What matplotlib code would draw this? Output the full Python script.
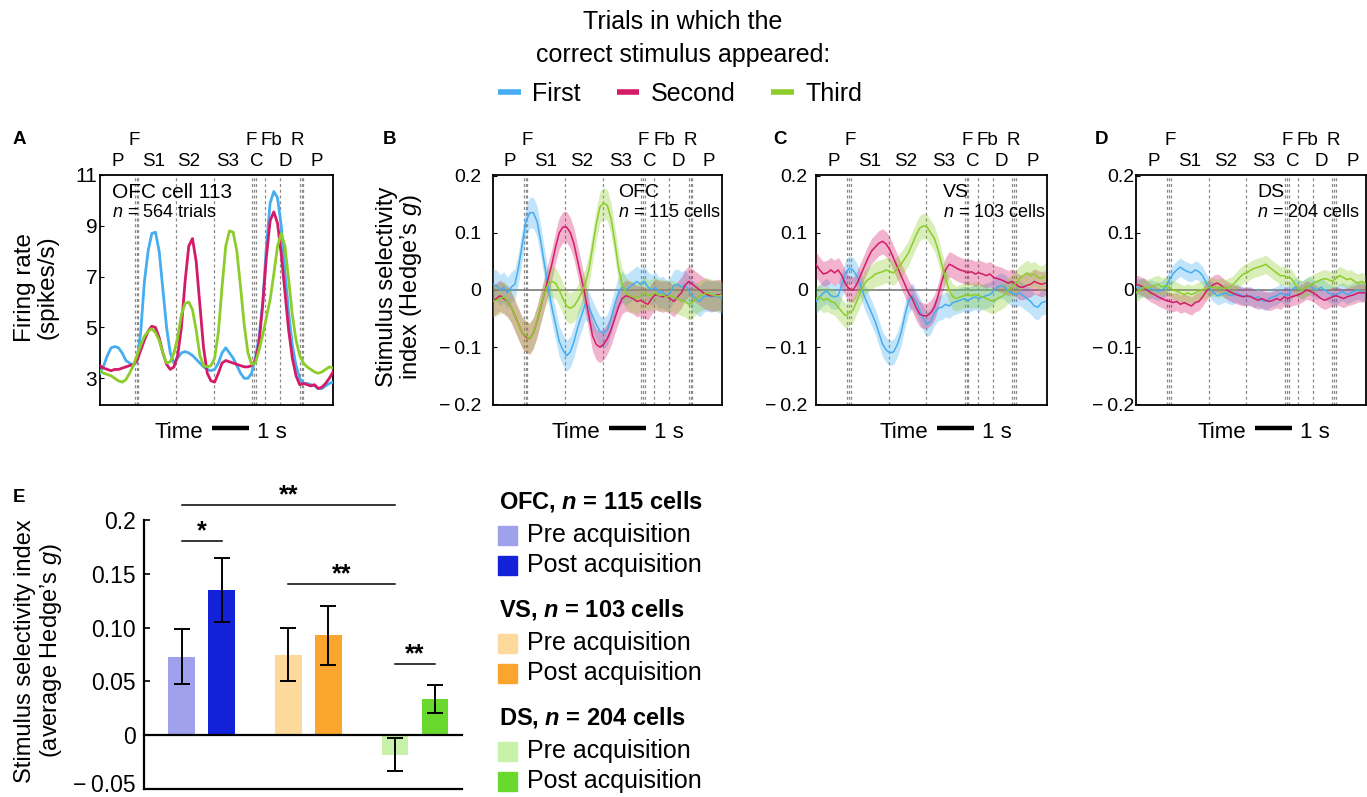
import matplotlib

matplotlib.use("Agg")
import matplotlib.pyplot as plt
import matplotlib.transforms as mtransforms
from matplotlib.lines import Line2D
from matplotlib.patches import Rectangle
import numpy as np

plt.rcParams["font.family"] = ["Liberation Sans", "DejaVu Sans"]
plt.rcParams["mathtext.fontset"] = "custom"
plt.rcParams["mathtext.rm"] = "Liberation Sans"
plt.rcParams["mathtext.it"] = "Liberation Sans:italic"
plt.rcParams["mathtext.bf"] = "Liberation Sans:bold"
plt.rcParams["mathtext.bfit"] = "Liberation Sans:bold:italic"

# ---------------------------------------------------------------- data
SERIES = ["First", "Second", "Third"]
SERIES_COLORS = ["#45adf0", "#d51a68", "#8ccd2b"]

# time grid (s); panel A starts 0.1 s earlier
T = np.round(np.arange(0.0, 6.25, 0.1), 1)
T_A = np.round(np.arange(-0.1, 6.25, 0.1), 1)

# task events (dashed lines) and their labels
EVENT_T = [0.84, 0.89, 0.94, 1.96, 2.98, 4.02, 4.07, 4.12, 4.37, 4.78, 5.30, 5.35, 5.40]
LOW_LABELS = ["P", "S1", "S2", "S3", "C", "D", "P"]
LOW_T = [0.47, 1.44, 2.41, 3.45, 4.24, 5.01, 5.85]
HIGH_LABELS = ["F", "F", "Fb", "R"]
HIGH_T = [0.93, 4.08, 4.64, 5.33]

# A: OFC cell 113 firing rate (spikes/s)
A_FIRST = [3.2, 3.5, 3.9, 4.2, 4.25, 4.2, 4.0, 3.7, 3.6, 3.5, 3.7,
           4.8, 6.8, 8.0, 8.7, 8.75, 8.0, 6.5, 5.0, 4.0, 3.6,
           3.8, 4.0, 4.05, 4.0, 3.9, 3.75, 3.6, 3.45, 3.35, 3.3,
           3.35, 3.6, 4.0, 4.2, 4.0, 3.8, 3.5, 3.2, 3.0, 3.0,
           3.2, 3.8, 4.6, 6.0, 8.2, 9.9, 10.35, 10.1, 9.0, 7.2,
           5.6, 4.3, 3.5, 3.0, 2.8, 2.8, 2.75, 2.7, 2.6, 2.6,
           2.7, 2.8, 2.85]
A_SECOND = [3.5, 3.4, 3.35, 3.3, 3.35, 3.35, 3.4, 3.45, 3.5, 3.55, 3.7,
            4.1, 4.5, 4.85, 5.05, 5.0, 4.6, 4.0, 3.55, 3.35, 3.45,
            3.9, 5.0, 6.8, 8.2, 8.5, 7.6, 5.9, 4.2, 3.2, 2.9,
            2.85, 3.2, 3.6, 3.7, 3.65, 3.6, 3.55, 3.5, 3.45, 3.45,
            3.5, 3.7, 4.4, 5.9, 7.8, 9.2, 9.55, 9.1, 7.9, 6.4,
            4.9, 3.8, 3.1, 2.75, 2.8, 2.75, 2.7, 2.75, 2.6, 2.65,
            2.8, 3.0, 3.25]
A_THIRD = [3.3, 3.2, 3.15, 3.1, 3.0, 2.9, 2.85, 2.95, 3.2, 3.5, 3.9,
           4.3, 4.65, 4.85, 4.95, 4.8, 4.5, 4.0, 3.6, 3.65, 4.0,
           4.6, 5.5, 5.95, 6.0, 5.7, 4.9, 3.9, 3.5, 3.45, 3.5,
           3.8, 4.8, 6.6, 8.2, 8.8, 8.75, 8.0, 6.6, 5.1, 4.0,
           3.55, 3.6, 4.1, 4.7, 5.4, 6.1, 7.1, 8.2, 8.7, 8.2,
           6.9, 5.5, 4.5, 3.9, 3.6, 3.45, 3.35, 3.25, 3.2, 3.25,
           3.35, 3.45, 3.4]

# B: OFC population selectivity (Hedge's g)
B_FIRST = [0.010, 0.008, 0.000, 0.005, -0.005, 0.005, 0.010, 0.040, 0.080, 0.120,
           0.135, 0.135, 0.120, 0.085, 0.045, 0.005, -0.030, -0.060, -0.090, -0.105,
           -0.115, -0.108, -0.090, -0.065, -0.045, -0.025, -0.030, -0.045, -0.060, -0.072,
           -0.075, -0.070, -0.050, -0.025, -0.005, 0.005, 0.000, 0.005, 0.010, 0.015,
           0.010, 0.015, 0.005, 0.000, 0.005, -0.005, -0.003, -0.010, -0.005, 0.008,
           0.010, 0.005, 0.008, 0.000, -0.010, -0.015, -0.020, -0.012, -0.010, -0.012,
           -0.010, -0.012, -0.015]
B_SECOND = [-0.020, -0.015, -0.010, -0.015, -0.020, -0.030, -0.045, -0.060, -0.075, -0.082,
            -0.085, -0.075, -0.055, -0.030, -0.005, 0.020, 0.045, 0.075, 0.100, 0.110,
            0.110, 0.100, 0.080, 0.050, 0.020, -0.010, -0.045, -0.080, -0.095, -0.100,
            -0.095, -0.085, -0.070, -0.050, -0.030, -0.015, -0.010, -0.012, -0.015, -0.020,
            -0.018, -0.022, -0.025, -0.015, -0.008, -0.010, -0.012, -0.010, -0.015, -0.020,
            -0.012, -0.005, 0.008, 0.015, 0.010, 0.005, 0.000, -0.005, -0.008, -0.010,
            -0.010, -0.008, -0.010]
B_THIRD = [-0.020, -0.018, -0.015, -0.012, -0.020, -0.030, -0.045, -0.060, -0.075, -0.080,
           -0.085, -0.075, -0.055, -0.030, -0.005, 0.010, 0.015, 0.012, 0.000, -0.015,
           -0.028, -0.032, -0.028, -0.018, -0.005, 0.010, 0.035, 0.075, 0.115, 0.145,
           0.152, 0.148, 0.125, 0.085, 0.040, 0.010, -0.005, -0.010, -0.012, -0.015,
           -0.010, -0.005, -0.010, -0.008, -0.005, -0.010, -0.008, -0.012, -0.010, -0.012,
           -0.015, -0.018, -0.020, -0.025, -0.022, -0.015, -0.010, -0.008, -0.005, -0.008,
           -0.010, -0.010, -0.010]

# C: VS population selectivity
C_FIRST = [-0.020, -0.012, -0.005, -0.002, -0.010, -0.012, -0.010, 0.010, 0.030, 0.038,
           0.035, 0.025, 0.010, -0.010, -0.025, -0.040, -0.055, -0.075, -0.095, -0.105,
           -0.110, -0.108, -0.095, -0.075, -0.045, -0.020, -0.010, -0.020, -0.035, -0.050,
           -0.060, -0.055, -0.040, -0.032, -0.030, -0.025, -0.028, -0.022, -0.020, -0.018,
           -0.015, -0.018, -0.015, -0.012, -0.015, -0.012, -0.010, -0.008, -0.002, 0.005,
           0.008, 0.005, -0.002, -0.005, -0.008, -0.005, -0.010, -0.015, -0.020, -0.028,
           -0.030, -0.022, -0.020]
C_SECOND = [0.045, 0.035, 0.028, 0.030, 0.035, 0.030, 0.035, 0.025, 0.010, 0.002,
            0.000, 0.010, 0.025, 0.040, 0.055, 0.068, 0.075, 0.082, 0.085, 0.080,
            0.070, 0.055, 0.040, 0.025, 0.010, -0.005, -0.015, -0.030, -0.042, -0.045,
            -0.045, -0.040, -0.030, -0.010, 0.015, 0.035, 0.045, 0.042, 0.038, 0.035,
            0.033, 0.030, 0.032, 0.028, 0.030, 0.028, 0.025, 0.028, 0.022, 0.020,
            0.018, 0.015, 0.012, 0.015, 0.010, 0.005, 0.005, 0.008, 0.010, 0.015,
            0.012, 0.010, 0.012]
C_THIRD = [-0.015, -0.012, -0.018, -0.015, -0.020, -0.022, -0.030, -0.038, -0.045, -0.040,
           -0.035, -0.020, -0.005, 0.010, 0.018, 0.022, 0.028, 0.030, 0.032, 0.035,
           0.032, 0.030, 0.038, 0.045, 0.055, 0.065, 0.080, 0.095, 0.108, 0.112,
           0.110, 0.100, 0.090, 0.070, 0.045, 0.020, 0.000, -0.012, -0.015, -0.012,
           -0.010, -0.008, -0.010, -0.008, -0.010, -0.012, -0.015, -0.018, -0.020, -0.015,
           -0.012, -0.008, 0.000, 0.005, 0.012, 0.020, 0.025, 0.030, 0.025, 0.028,
           0.022, 0.020, 0.025]

# D: DS population selectivity
D_FIRST = [0.005, 0.003, 0.005, 0.000, 0.002, 0.000, -0.002, 0.000, 0.005, 0.018,
           0.028, 0.035, 0.040, 0.035, 0.032, 0.030, 0.035, 0.032, 0.025, 0.012,
           0.002, -0.005, -0.010, -0.008, -0.005, -0.008, -0.010, -0.005, -0.008, -0.010,
           -0.012, -0.010, -0.015, -0.012, -0.018, -0.020, -0.015, -0.012, -0.010, -0.005,
           -0.008, -0.010, 0.000, 0.005, 0.002, 0.000, 0.005, 0.008, 0.002, 0.000,
           0.005, 0.000, -0.005, -0.008, -0.010, -0.005, -0.003, -0.008, -0.005, -0.002,
           0.000, -0.003, -0.005]
D_SECOND = [0.010, 0.008, 0.005, 0.000, -0.005, -0.008, -0.012, -0.015, -0.018, -0.020,
            -0.022, -0.020, -0.025, -0.022, -0.025, -0.028, -0.022, -0.020, -0.012, -0.002,
            0.005, 0.010, 0.012, 0.008, 0.002, -0.002, -0.005, -0.008, -0.010, -0.012,
            -0.010, -0.012, -0.015, -0.018, -0.015, -0.018, -0.020, -0.018, -0.015, -0.018,
            -0.012, -0.015, -0.012, -0.010, -0.008, -0.005, 0.000, -0.002, -0.005, -0.010,
            -0.015, -0.018, -0.015, -0.012, -0.010, -0.012, -0.015, -0.012, -0.010, -0.008,
            -0.005, -0.005, -0.005]
D_THIRD = [-0.005, 0.000, 0.005, 0.003, 0.005, 0.008, 0.010, 0.005, 0.008, 0.005,
           0.000, -0.002, -0.005, -0.008, -0.005, -0.008, -0.005, -0.002, 0.000, 0.002,
           0.005, 0.005, 0.003, 0.005, 0.002, 0.005, 0.008, 0.015, 0.022, 0.028,
           0.030, 0.035, 0.038, 0.040, 0.042, 0.045, 0.040, 0.035, 0.030, 0.025,
           0.025, 0.022, 0.020, 0.010, 0.002, 0.000, 0.005, 0.008, 0.012, 0.015,
           0.018, 0.020, 0.018, 0.015, 0.020, 0.025, 0.022, 0.018, 0.020, 0.015,
           0.012, 0.015, 0.010]

# half-width of the SEM bands per population panel
SEM_B = 0.027
SEM_C = 0.022
SEM_D = 0.016

# E: average selectivity pre / post acquisition
REGIONS = ["OFC", "VS", "DS"]
N_CELLS = [115, 103, 204]
PRE_MEAN = [0.073, 0.075, -0.018]
PRE_ERR = [0.0256, 0.0245, 0.0152]
POST_MEAN = [0.135, 0.093, 0.034]
POST_ERR = [0.0298, 0.0273, 0.0130]
PRE_COLORS = ["#a0a1ec", "#fdd99b", "#c8f2a9"]
POST_COLORS = ["#1321d9", "#faa52d", "#69da2d"]
# significance brackets: (bar index from, bar index to, height, label)
SIG_BARS = [(0, 1, 0.1805, "*"), (0, 4, 0.2142, "**"), (2, 4, 0.1407, "**"), (4, 5, 0.0663, "**")]

# ---------------------------------------------------------------- figure
W, H = 1367, 797
fig = plt.figure(figsize=(W / 100, H / 100), dpi=100, facecolor="white")
MINUS = "\u2212\u2009"


def px_axes(left, top, right, bottom):
    return fig.add_axes([left / W, 1 - bottom / H, (right - left) / W, (bottom - top) / H])


def fig_text(x, y, s, **kw):
    return fig.text(x / W, 1 - y / H, s, **kw)


def decorate_trace(ax, xlim, ylim, yticks, yticklabels, label_shift, pad, bar_start, tick_size):
    ax.set_xlim(*xlim)
    ax.set_ylim(*ylim)
    for t in EVENT_T:
        ax.axvline(t, color="#8a8a8a", lw=0.9, ls=(0, (2.4, 2.2)), zorder=1)
    trans = mtransforms.blended_transform_factory(ax.transData, ax.transAxes)
    for lab, t in zip(LOW_LABELS, LOW_T):
        ax.text(t + label_shift, 1.057, lab, transform=trans, ha="center", va="center", fontsize=13.5)
    for lab, t in zip(HIGH_LABELS, HIGH_T):
        ax.text(t + label_shift, 1.150, lab, transform=trans, ha="center", va="center", fontsize=13.5)
    ax.set_xticks([])
    ax.set_yticks(yticks)
    ax.set_yticklabels(yticklabels)
    ax.tick_params(axis="y", direction="in", length=3, width=0.8, labelsize=tick_size, pad=pad)
    for sp in ax.spines.values():
        sp.set_linewidth(1.3)
    # scale bar under the axes
    ax.plot([bar_start, bar_start + 1.0], [-0.10, -0.10], color="black", lw=3.2,
            transform=trans, clip_on=False, solid_capstyle="butt")
    ax.text(bar_start - 0.24, -0.12, "Time", transform=trans, ha="right", va="center", fontsize=16)
    ax.text(bar_start + 1.22, -0.12, "1 s", transform=trans, ha="left", va="center", fontsize=16)


# ---- panel A
axA = px_axes(100, 175, 333, 405)
for vals, col in zip([A_FIRST, A_SECOND, A_THIRD], SERIES_COLORS):
    axA.plot(T_A, vals, color=col, lw=2.0, zorder=3)
decorate_trace(axA, (-0.1, 6.2), (1.95, 11.0), [3, 5, 7, 9, 11], ["3", "5", "7", "9", "11"],
               -0.1, 2, 2.93, 15)
axA.text(0.05, 0.926, "OFC cell 113", transform=axA.transAxes, ha="left", va="center", fontsize=15)
axA.text(0.05, 0.835, "$n$ = 564 trials", transform=axA.transAxes, ha="left", va="center", fontsize=13)
fig_text(36, 287, "Firing rate\n(spikes/s)", rotation=90, ha="center", va="center",
         fontsize=17.5, linespacing=1.05)

# ---- panels B, C, D
POP_PANELS = [
    ("B", (492.7, 175, 722.3, 405), [B_FIRST, B_SECOND, B_THIRD], SEM_B, "OFC", 115, 0.546, 8, 3.14, 6.21),
    ("C", (816, 175, 1046.7, 405), [C_FIRST, C_SECOND, C_THIRD], SEM_C, "VS", 103, 0.55, 6, 3.27, 6.235),
    ("D", (1136, 175, 1365.5, 405), [D_FIRST, D_SECOND, D_THIRD], SEM_D, "DS", 204, 0.529, 1.5, 3.22, 6.2),
]
pop_ticks = [-0.2, -0.1, 0, 0.1, 0.2]
pop_ticklabels = [MINUS + "0.2", MINUS + "0.1", "0", "0.1", "0.2"]
for letter, box, series, sem, region, ncell, tx, pad, bar_start, xmax in POP_PANELS:
    ax = px_axes(*box)
    ax.axhline(0, color="#7a7a7a", lw=1.2, zorder=2)
    for vals, col in zip(series, SERIES_COLORS):
        v = np.asarray(vals)
        ax.fill_between(T, v - sem, v + sem, color=col, alpha=0.33, lw=0, zorder=3)
        ax.plot(T, v, color=col, lw=1.1, zorder=4)
    decorate_trace(ax, (0, xmax), (-0.201, 0.201), pop_ticks, pop_ticklabels, 0.0, pad, bar_start, 14)
    ax.text(tx, 0.926, region, transform=ax.transAxes, ha="left", va="center", fontsize=14)
    ax.text(tx, 0.835, f"$n$ = {ncell} cells", transform=ax.transAxes, ha="left", va="center",
            fontsize=13)

fig_text(400, 287, "Stimulus selectivity\nindex (Hedge\u2019s $g$)", rotation=90, ha="center",
         va="center", fontsize=17, linespacing=1.0)

for letter, (x, y) in zip("ABCDE", [(13, 140), (383, 140), (773, 140), (1095, 140), (13, 498)]):
    fig_text(x, y, letter, ha="left", va="center", fontsize=13.5, fontweight="bold")

# ---- top legend
fig_text(683, 22, "Trials in which the", ha="center", va="center", fontsize=18)
fig_text(683, 55, "correct stimulus appeared:", ha="center", va="center", fontsize=18)
handles = [Line2D([], [], color=c, lw=4, solid_capstyle="butt") for c in SERIES_COLORS]
fig.legend(handles, SERIES, loc="center", bbox_to_anchor=(680 / W, 1 - 94 / H), ncol=3,
           frameon=False, fontsize=18, handlelength=0.9, handletextpad=0.45, columnspacing=1.45)

# ---- panel E
axE = px_axes(144, 520, 462, 789)
group_x = np.arange(len(REGIONS))
bar_x = []
for g in group_x:
    bar_x += [g - 0.1875, g + 0.1875]
heights, errs, colors = [], [], []
for i in range(len(REGIONS)):
    heights += [PRE_MEAN[i], POST_MEAN[i]]
    errs += [PRE_ERR[i], POST_ERR[i]]
    colors += [PRE_COLORS[i], POST_COLORS[i]]
axE.bar(bar_x, heights, width=0.25, color=colors, zorder=2,
        yerr=errs, capsize=5.5, error_kw={"elinewidth": 1.4, "capthick": 1.4, "ecolor": "black", "zorder": 4})
axE.axhline(0, color="black", lw=1.6, zorder=3, clip_on=False)
axE.set_xlim(-0.54, 2.44)
axE.set_ylim(-0.05, 0.2)
axE.set_xticks([])
axE.set_yticks([-0.05, 0, 0.05, 0.10, 0.15, 0.2])
axE.set_yticklabels([MINUS + "0.05", "0", "0.05", "0.10", "0.15", "0.2"])
axE.tick_params(axis="y", direction="in", length=4, width=1.2, labelsize=16.5, pad=6)
axE.spines["top"].set_visible(False)
axE.spines["right"].set_visible(False)
axE.spines["left"].set_linewidth(1.6)
axE.spines["bottom"].set_linewidth(1.6)
for i0, i1, y, lab in SIG_BARS:
    axE.plot([bar_x[i0], bar_x[i1]], [y, y], color="black", lw=1.1, clip_on=False)
    axE.text((bar_x[i0] + bar_x[i1]) / 2, y - 0.002, lab, ha="center", va="bottom",
             fontsize=18, fontweight="bold", clip_on=False)
fig_text(39, 651, "Stimulus selectivity index\n(average Hedge\u2019s $g$)", rotation=90,
         ha="center", va="center", fontsize=17, linespacing=1.1)

# lift the lowest tick label a little so it stays inside the figure
low_label = axE.yaxis.get_major_ticks()[0].label1
low_label.set_transform(low_label.get_transform()
                        + mtransforms.ScaledTranslation(0, 4 / 72, fig.dpi_scale_trans))

# ---- legend for E
header_y = [502, 610, 718]
for i, region in enumerate(REGIONS):
    y0 = header_y[i]
    fig_text(499, y0, f"{region}, $\\mathbfit{{n}}$ = {N_CELLS[i]} cells", ha="left", va="center",
             fontsize=17, fontweight="bold")
    for j, (lab, col) in enumerate([("Pre acquisition", PRE_COLORS[i]), ("Post acquisition", POST_COLORS[i])]):
        yy = y0 + 33 + 30 * j
        fig.patches.append(Rectangle((498 / W, 1 - (yy + 9.5) / H), 19 / W, 19 / H,
                                     transform=fig.transFigure, color=col, figure=fig))
        fig_text(527, yy, lab, ha="left", va="center", fontsize=18)

fig.savefig("out.png", dpi=100, facecolor="white")
